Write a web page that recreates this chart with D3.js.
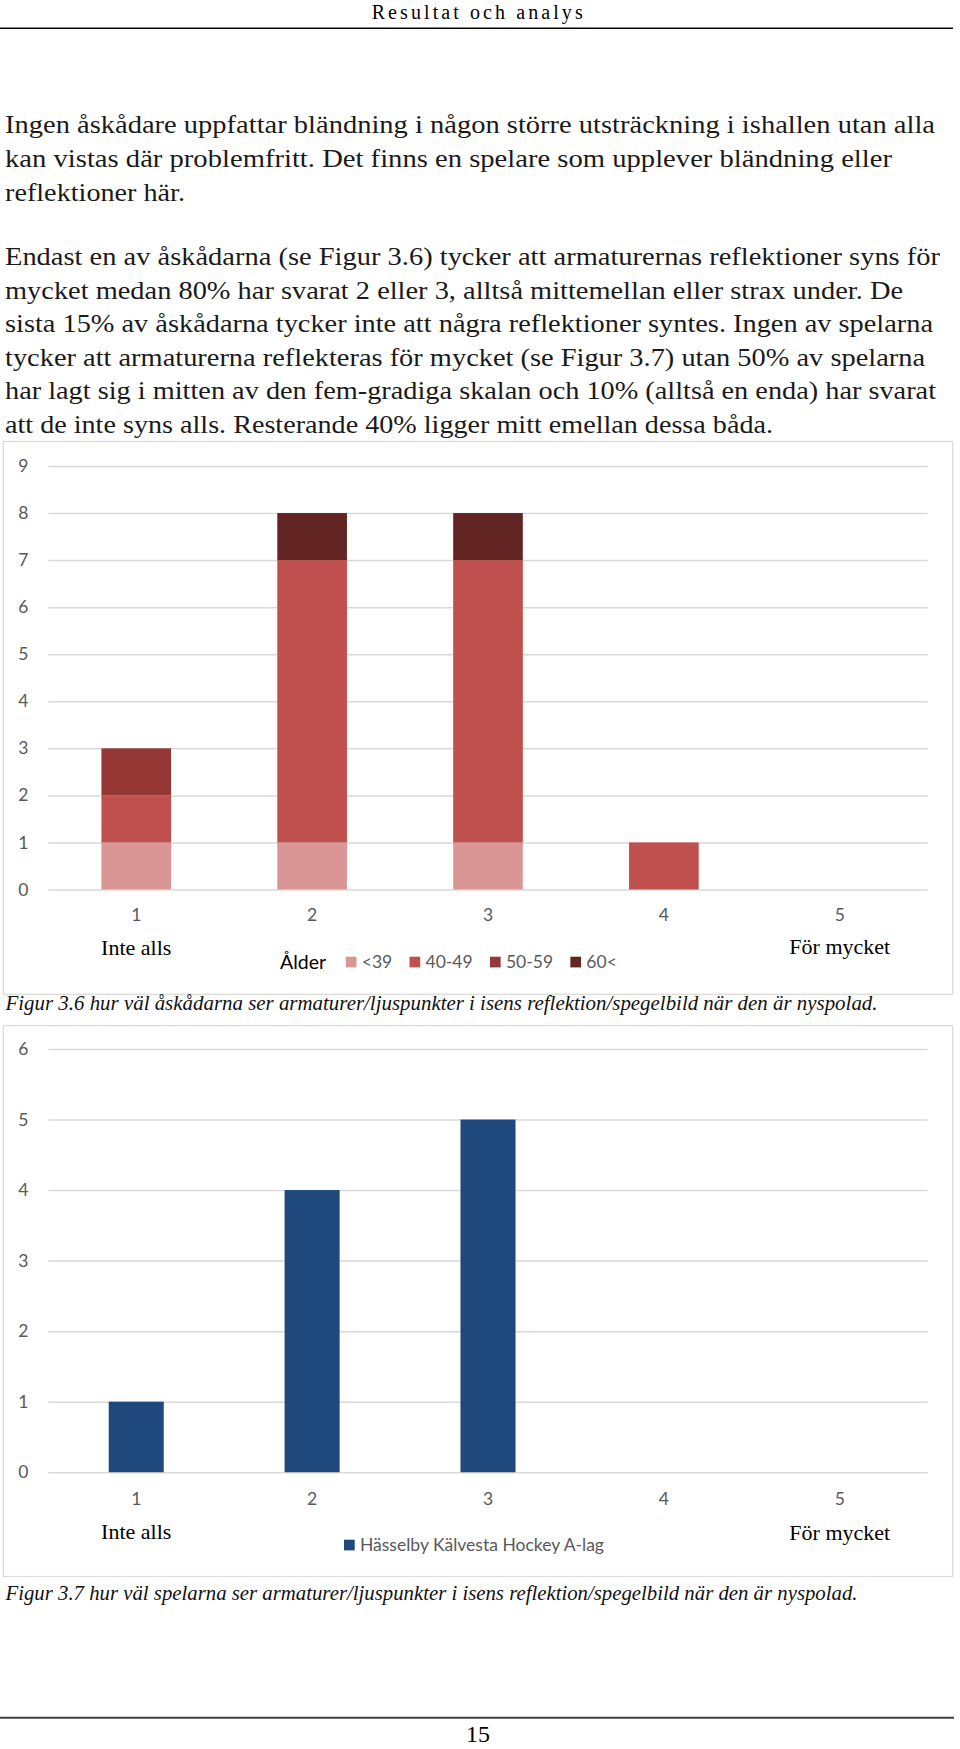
<!DOCTYPE html>
<html>
<head>
<meta charset="utf-8">
<script src="https://cdn.jsdelivr.net/npm/d3@7"></script>
<style>
  body { margin: 0; background: #fff; }
  svg { display: block; }
</style>
</head>
<body>
<svg id="page"></svg>
<script>
// ---- text of the page ----
const headerTitle = "Resultat och analys";
const paragraphOne = [
  "Ingen åskådare uppfattar bländning i någon större utsträckning i ishallen utan alla",
  "kan vistas där problemfritt. Det finns en spelare som upplever bländning eller",
  "reflektioner här."
];
const paragraphTwo = [
  "Endast en av åskådarna (se Figur 3.6) tycker att armaturernas reflektioner syns för",
  "mycket medan 80% har svarat 2 eller 3, alltså mittemellan eller strax under. De",
  "sista 15% av åskådarna tycker inte att några reflektioner syntes. Ingen av spelarna",
  "tycker att armaturerna reflekteras för mycket (se Figur 3.7) utan 50% av spelarna",
  "har lagt sig i mitten av den fem-gradiga skalan och 10% (alltså en enda) har svarat",
  "att de inte syns alls. Resterande 40% ligger mitt emellan dessa båda."
];
const pageNumber = "15";

// ---- shared axis labels ----
const scaleLabels = ["1", "2", "3", "4", "5"];
const lowLabel = "Inte alls";
const highLabel = "För mycket";

// ---- Figur 3.6 (spectators, stacked by age) ----
const ageTitle = "Ålder";
const ageGroups = ["<39", "40-49", "50-59", "60<"];
const ageColors = ["#d99694", "#c0504d", "#953735", "#632523"];
const ageUnder39 = [1, 1, 1, 0, 0];
const age40to49 = [1, 6, 6, 1, 0];
const age50to59 = [1, 0, 0, 0, 0];
const age60plus = [0, 1, 1, 0, 0];
const fig36Ticks = [0, 1, 2, 3, 4, 5, 6, 7, 8, 9];
const fig36Caption = "Figur 3.6 hur väl åskådarna ser armaturer/ljuspunkter i isens reflektion/spegelbild när den är nyspolad.";

// ---- Figur 3.7 (players) ----
const playerSeries = "Hässelby Kälvesta Hockey A-lag";
const playerColor = "#1f497d";
const playerCounts = [1, 4, 5, 0, 0];
const fig37Ticks = [0, 1, 2, 3, 4, 5, 6];
const fig37Caption = "Figur 3.7 hur väl spelarna ser armaturer/ljuspunkter i isens reflektion/spegelbild när den är nyspolad.";

const width = 960, height = 1749;
const serif = "'Liberation Serif', 'Times New Roman', serif";
const sans = "Lato, 'Open Sans', sans-serif";
const axisGrey = "#595959";
const gridGrey = "#d9d9d9";

const svg = d3.select("#page")
  .attr("width", width)
  .attr("height", height);

svg.append("rect").attr("width", width).attr("height", height).attr("fill", "#fff");

// header
svg.append("text")
  .attr("x", 371.7).attr("y", 18.5)
  .attr("font-family", serif).attr("font-size", 20)
  .attr("textLength", 211).attr("lengthAdjust", "spacing")
  .attr("fill", "#000")
  .text(headerTitle);
svg.append("line")
  .attr("x1", 0).attr("x2", 953).attr("y1", 28.3).attr("y2", 28.3)
  .attr("stroke", "#000").attr("stroke-width", 1.4);

// body text, one svg text per printed line
const lineHeight = 33.6;
const bodyBlocks = [
  { lines: paragraphOne, top: 133.3, widths: [930, 887, 180] },
  { lines: paragraphTwo, top: 265, widths: [935, 898, 928, 920, 931, 768] }
];
bodyBlocks.forEach((b) => {
  svg.append("g")
    .selectAll("text")
    .data(b.lines)
    .join("text")
    .attr("x", 5)
    .attr("y", (d, i) => b.top + i * lineHeight)
    .attr("font-family", serif)
    .attr("font-size", 24.5)
    .attr("fill", "#1a1a1a")
    .attr("textLength", (d, i) => b.widths[i])
    .attr("lengthAdjust", "spacingAndGlyphs")
    .text((d) => d);
});

// chart frame settings, shared by both figures
const plotLeft = 48.3, plotRight = 927.7;

function drawFrame(top, bottom) {
  svg.append("rect")
    .attr("x", 3.3).attr("y", top)
    .attr("width", 949.4).attr("height", bottom - top)
    .attr("fill", "#fff").attr("stroke", gridGrey).attr("stroke-width", 1.2);
}

function drawAxes(g, x, y, ticks, xPad) {
  // horizontal gridlines with value labels
  g.append("g")
    .attr("transform", `translate(${plotLeft},0)`)
    .call(d3.axisLeft(y).tickValues(ticks).tickFormat(d3.format("d"))
      .tickSize(-(plotRight - plotLeft)).tickPadding(20))
    .call((a) => a.select(".domain").remove())
    .call((a) => a.selectAll(".tick line").attr("stroke", gridGrey).attr("stroke-width", 1.5))
    .call((a) => a.selectAll(".tick text")
      .attr("fill", axisGrey).attr("font-family", sans).attr("font-size", 17.5));

  g.append("g")
    .attr("transform", `translate(0,${y(0)})`)
    .call(d3.axisBottom(x).tickSize(0).tickPadding(xPad))
    .call((a) => a.select(".domain").remove())
    .call((a) => a.selectAll(".tick text")
      .attr("fill", axisGrey).attr("font-family", sans).attr("font-size", 17.5));
}

function drawEndLabels(g, x, yLow, yHigh) {
  const c = (k) => x(k) + x.bandwidth() / 2;
  g.append("text")
    .attr("x", c(scaleLabels[0])).attr("y", yLow)
    .attr("text-anchor", "middle")
    .attr("font-family", serif).attr("font-size", 22).attr("fill", "#000")
    .text(lowLabel);
  g.append("text")
    .attr("x", c(scaleLabels[scaleLabels.length - 1])).attr("y", yHigh)
    .attr("text-anchor", "middle")
    .attr("font-family", serif).attr("font-size", 22).attr("fill", "#000")
    .text(highLabel);
}

function drawLegend(g, startX, cy, items) {
  let cursor = startX;
  items.forEach((it) => {
    if (it.color) {
      g.append("rect")
        .attr("x", cursor).attr("y", cy - 5.3)
        .attr("width", 10.7).attr("height", 10.7)
        .attr("fill", it.color);
      cursor += 16;
    }
    const t = g.append("text")
      .attr("x", cursor).attr("y", cy)
      .attr("dy", "0.35em")
      .attr("font-family", sans)
      .attr("font-size", it.size)
      .attr("fill", it.fill)
      .text(it.label);
    cursor += t.node().getComputedTextLength() + it.gap;
  });
}

function drawCaption(text, y, len) {
  svg.append("text")
    .attr("x", 5.5).attr("y", y)
    .attr("font-family", serif).attr("font-style", "italic")
    .attr("font-size", 20.5).attr("fill", "#111")
    .attr("textLength", len).attr("lengthAdjust", "spacingAndGlyphs")
    .text(text);
}

// ================= Figur 3.6 =================
drawFrame(441.5, 994.3);
const g36 = svg.append("g");

const x36 = d3.scaleBand()
  .domain(scaleLabels)
  .range([plotLeft, plotRight])
  .paddingInner(0.604)
  .paddingOuter(0.302);

const y36 = d3.scaleLinear()
  .domain([0, 9])
  .range([889.5, 466]);

drawAxes(g36, x36, y36, fig36Ticks, 19);

const ageRows = scaleLabels.map((s, i) => ({
  label: s,
  [ageGroups[0]]: ageUnder39[i],
  [ageGroups[1]]: age40to49[i],
  [ageGroups[2]]: age50to59[i],
  [ageGroups[3]]: age60plus[i]
}));
const stacked = d3.stack().keys(ageGroups)(ageRows);
const ageColor = d3.scaleOrdinal().domain(ageGroups).range(ageColors);

g36.append("g")
  .selectAll("g")
  .data(stacked)
  .join("g")
  .attr("fill", (d) => ageColor(d.key))
  .selectAll("rect")
  .data((d) => d.filter((p) => p[1] > p[0]))
  .join("rect")
  .attr("x", (d) => x36(d.data.label))
  .attr("width", x36.bandwidth())
  .attr("y", (d) => y36(d[1]))
  .attr("height", (d) => y36(d[0]) - y36(d[1]));

drawEndLabels(g36, x36, 955, 953.5);

drawLegend(g36, 280, 962, [
  { label: ageTitle, size: 19.5, fill: "#000", gap: 19.7 },
  ...ageGroups.map((k) => ({ label: k, color: ageColor(k), size: 17.5, fill: axisGrey, gap: 17.3 }))
]);

drawCaption(fig36Caption, 1010, 872);

// ================= Figur 3.7 =================
drawFrame(1025.7, 1576.5);
const g37 = svg.append("g");

const x37 = d3.scaleBand()
  .domain(scaleLabels)
  .range([plotLeft, plotRight])
  .paddingInner(0.687)
  .paddingOuter(0.3435);

const y37 = d3.scaleLinear()
  .domain([0, 6])
  .range([1472.2, 1049]);

drawAxes(g37, x37, y37, fig37Ticks, 20);

g37.append("g")
  .selectAll("rect")
  .data(scaleLabels.map((s, i) => ({ label: s, value: playerCounts[i] })).filter((d) => d.value > 0))
  .join("rect")
  .attr("x", (d) => x37(d.label))
  .attr("width", x37.bandwidth())
  .attr("y", (d) => y37(d.value))
  .attr("height", (d) => y37(0) - y37(d.value))
  .attr("fill", playerColor);

drawEndLabels(g37, x37, 1538.5, 1540);

drawLegend(g37, 344, 1545, [
  { label: playerSeries, color: playerColor, size: 17.5, fill: axisGrey, gap: 0 }
]);

drawCaption(fig37Caption, 1600, 852);

// footer
svg.append("line")
  .attr("x1", 0).attr("x2", 954).attr("y1", 1717.7).attr("y2", 1717.7)
  .attr("stroke", "#404040").attr("stroke-width", 2);
svg.append("text")
  .attr("x", 478).attr("y", 1742)
  .attr("text-anchor", "middle")
  .attr("font-family", serif).attr("font-size", 24)
  .attr("fill", "#000")
  .text(pageNumber);
</script>
</body>
</html>
